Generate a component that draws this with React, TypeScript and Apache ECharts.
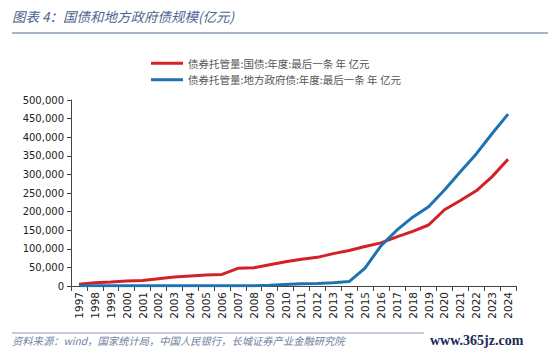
import React, { useEffect, useRef } from "react";
import * as echarts from "echarts";

const years = ["1997","1998","1999","2000","2001","2002","2003","2004","2005","2006","2007","2008","2009","2010","2011","2012","2013","2014","2015","2016","2017","2018","2019","2020","2021","2022","2023","2024"];
const treasury = [4500,9000,10700,13400,15000,19700,24000,27000,29600,31000,47500,49000,57000,65000,72000,77000,87000,95500,106000,116000,132000,147000,164000,205000,230000,256000,294000,341000];
const localGov = [800,800,800,800,800,800,800,800,800,800,800,800,2000,4000,6000,6500,9000,12000,48000,108000,150000,185000,213000,258000,307000,355000,410000,462000];
const seriesNames = ["债券托管量:国债:年度:最后一条 年 亿元", "债券托管量:地方政府债:年度:最后一条 年 亿元"];
const titleText = "图表 4：国债和地方政府债规模(亿元)";
const sourceText = "资料来源：wind，国家统计局，中国人民银行，长城证券产业金融研究院";
const watermark = "www.365jz.com";

export default function App() {
  const ref = useRef<HTMLDivElement>(null);
  useEffect(() => {
    if (!ref.current) return;
    const chart = echarts.init(ref.current, null, { renderer: "svg" });
    const sans = "'DejaVu Sans', Verdana, sans-serif";
    chart.setOption({
      animation: false,
      backgroundColor: "#ffffff",
      grid: { left: 71, right: 34, top: 100, bottom: 69, containLabel: false },
      legend: {
        orient: "vertical",
        left: 146,
        top: 53,
        itemWidth: 32,
        itemHeight: 3,
        itemGap: 6,
        icon: "rect",
        textStyle: { fontSize: 10.5, color: "#555", fontFamily: "'Noto Sans CJK SC', sans-serif" },
        data: seriesNames,
      },
      xAxis: {
        type: "category",
        data: years,
        boundaryGap: true,
        axisLine: { lineStyle: { color: "#444", width: 1 } },
        axisTick: { show: true, alignWithLabel: false, length: 5, lineStyle: { color: "#444" } },
        axisLabel: { rotate: 90, fontSize: 10.5, color: "#222", fontFamily: sans, margin: 6, interval: 0 },
      },
      yAxis: {
        type: "value",
        min: 0,
        max: 500000,
        interval: 50000,
        axisLine: { show: true, lineStyle: { color: "#444", width: 1 } },
        axisTick: { show: true, length: 4, lineStyle: { color: "#444" } },
        splitLine: { show: false },
        axisLabel: {
          fontSize: 10,
          color: "#222",
          fontFamily: sans,
          margin: 7,
          formatter: (v: number) => v.toLocaleString("en-US"),
        },
      },
      series: [
        {
          name: seriesNames[0],
          type: "line",
          data: treasury,
          symbol: "none",
          lineStyle: { color: "#d42027", width: 3 },
          itemStyle: { color: "#d42027" },
          z: 2,
        },
        {
          name: seriesNames[1],
          type: "line",
          data: localGov,
          symbol: "none",
          lineStyle: { color: "#1f72b0", width: 3 },
          itemStyle: { color: "#1f72b0" },
          z: 3,
        },
      ],
      graphic: [
        {
          type: "text",
          left: 12,
          top: 9,
          style: {
            text: titleText,
            fontSize: 13.5,
            fontStyle: "italic",
            fill: "#4f6590",
            fontFamily: "'Noto Sans CJK SC', sans-serif",
          },
        },
        {
          type: "line",
          shape: { x1: 12, y1: 33, x2: 548, y2: 33 },
          style: { stroke: "#8a9ab8", lineWidth: 1.5 },
        },
        {
          type: "line",
          shape: { x1: 12, y1: 333, x2: 424, y2: 333 },
          style: { stroke: "#8a9ab8", lineWidth: 1 },
        },
        {
          type: "text",
          left: 12,
          top: 335,
          style: {
            text: sourceText,
            fontSize: 10.3,
            fontStyle: "italic",
            fill: "#6f7fa0",
            fontFamily: "'Noto Sans CJK SC', sans-serif",
          },
        },
        {
          type: "text",
          left: 430,
          top: 333,
          style: {
            text: watermark,
            fontSize: 14,
            fill: "#1b2a55",
            fontFamily: "'Liberation Serif', 'DejaVu Serif', serif",
            fontWeight: "bold",
          },
        },
      ],
    });
    return () => chart.dispose();
  }, []);
  return <div ref={ref} style={{ width: 550, height: 355, position: "absolute", left: 0, top: 0 }} />;
}
